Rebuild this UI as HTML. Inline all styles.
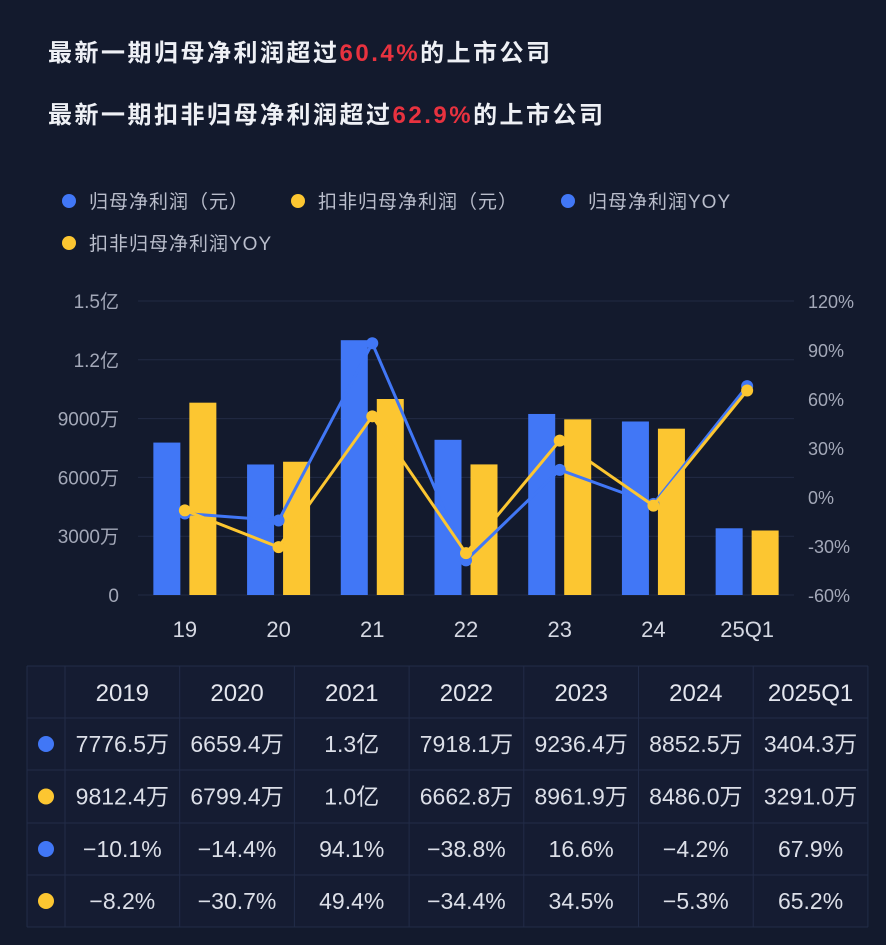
<!DOCTYPE html>
<html><head><meta charset="utf-8">
<style>
html,body{margin:0;padding:0;background:#131a2d;}
body{width:886px;height:940px;overflow:hidden;font-family:"Liberation Sans","Noto Sans CJK SC",sans-serif;}
svg text{font-family:"Liberation Sans","Noto Sans CJK SC",sans-serif;}
</style></head>
<body>
<svg id="chart" width="886" height="940" xmlns="http://www.w3.org/2000/svg">
<rect x="0" y="0" width="886" height="940" fill="#131a2d"/>
<text x="48" y="61" font-size="24" letter-spacing="2.5" font-weight="bold" fill="#eef0f5">最新一期归母净利润超过<tspan fill="#e8323f">60.4%</tspan>的上市公司</text>
<text x="48" y="123" font-size="24" letter-spacing="2.5" font-weight="bold" fill="#eef0f5">最新一期扣非归母净利润超过<tspan fill="#e8323f">62.9%</tspan>的上市公司</text>
<g id="legend"></g>
<g id="grid"></g><g id="bars"></g><g id="lines"></g><g id="axes"></g><g id="table"></g>
</svg>
<script>
const categories=["19","20","21","22","23","24","25Q1"];
const years=["2019","2020","2021","2022","2023","2024","2025Q1"];
const netProfit=[7776.5,6659.4,13000,7918.1,9236.4,8852.5,3404.3];
const deductedProfit=[9812.4,6799.4,10000,6662.8,8961.9,8486.0,3291.0];
const netYoy=[-10.1,-14.4,94.1,-38.8,16.6,-4.2,67.9];
const deductedYoy=[-8.2,-30.7,49.4,-34.4,34.5,-5.3,65.2];
const netProfitLabels=["7776.5万","6659.4万","1.3亿","7918.1万","9236.4万","8852.5万","3404.3万"];
const deductedLabels=["9812.4万","6799.4万","1.0亿","6662.8万","8961.9万","8486.0万","3291.0万"];
const leftTicks=[0,3000,6000,9000,12000,15000];
const leftTickLabels=["0","3000万","6000万","9000万","1.2亿","1.5亿"];
const rightTicks=[-60,-30,0,30,60,90,120];

const NS="http://www.w3.org/2000/svg";
const BLUE="#4177f6",YEL="#fcc631";
function mk(tag,attrs,parent,text){const e=document.createElementNS(NS,tag);for(const k in attrs)e.setAttribute(k,attrs[k]);if(text!==undefined)e.textContent=text;parent.appendChild(e);return e;}
const plotTop=301,plotBot=595,plotLeft=138,plotRight=794;
const yL=v=>plotBot-(v/15000)*(plotBot-plotTop);
const yR=v=>plotBot-((v+60)/180)*(plotBot-plotTop);
const step=(plotRight-plotLeft)/categories.length;
const xC=i=>plotLeft+step*(i+0.5);

const lg=document.getElementById('legend');
const legItems=[["归母净利润（元）",BLUE,69,201],["扣非归母净利润（元）",YEL,298,201],["归母净利润YOY",BLUE,568,201],["扣非归母净利润YOY",YEL,69,243]];
legItems.forEach(it=>{
 const c=mk('circle',{cx:it[2],cy:it[3],r:7,fill:it[1]},lg);
 
 
 const t=mk('text',{x:it[2]+20,y:it[3]+7,'font-size':19,'letter-spacing':1,fill:'#b9bdcb'},lg,it[0]);
 
 
});

const g=document.getElementById('grid'),ax=document.getElementById('axes');
leftTicks.forEach((v,i)=>{
 const l=mk('line',{x1:plotLeft,x2:plotRight,y1:yL(v),y2:yL(v),stroke:'#222b44','stroke-width':1},g);
 
 
 const t=mk('text',{x:119,y:yL(v)+7,'font-size':19,fill:'#a3a8b8','text-anchor':'end'},ax,leftTickLabels[i]);
 
 
});
rightTicks.forEach(v=>{
 const t=mk('text',{x:808,y:yR(v)+7,'font-size':18,fill:'#a3a8b8'},ax,v+'%');
 
 
});
categories.forEach((c,i)=>{
 const t=mk('text',{x:xC(i),y:637,'font-size':22,fill:'#d5d8e2','text-anchor':'middle'},ax,c);
 
 
});

const b=document.getElementById('bars');const bw=27;
categories.forEach((c,i)=>{
 const r1=mk('rect',{x:xC(i)-bw-4.5,y:yL(netProfit[i]),width:bw,height:plotBot-yL(netProfit[i]),fill:BLUE},b);
 
 
 const r2=mk('rect',{x:xC(i)+4.5,y:yL(deductedProfit[i]),width:bw,height:plotBot-yL(deductedProfit[i]),fill:YEL},b);
 
 
});

const ln=document.getElementById('lines');
[[netYoy,BLUE,'net-yoy'],[deductedYoy,YEL,'deducted-yoy']].forEach(s=>{
 const pts=s[0].map((v,i)=>xC(i)+','+yR(v)).join(' ');
 const p=mk('polyline',{points:pts,fill:'none',stroke:s[1],'stroke-width':3},ln);
 
 
 s[0].forEach((v,i)=>{
  const c=mk('circle',{cx:xC(i),cy:yR(v),r:6,fill:s[1]},ln);
  
  
 });
});

const tb=document.getElementById('table');
const tx0=27,tc0=65,cw=114.7,rowY=[666,718,770,823,875,927];
mk('rect',{x:tx0,y:666,width:868-tx0,height:261,fill:'#151c32'},tb);
rowY.forEach(y=>{mk('line',{x1:tx0,x2:868,y1:y,y2:y,stroke:'#222c48','stroke-width':1},tb);});
for(let i=0;i<=7;i++){const x=tc0+cw*i;mk('line',{x1:x,x2:x,y1:666,y2:927,stroke:'#222c48','stroke-width':1},tb);}
mk('line',{x1:tx0,x2:tx0,y1:666,y2:927,stroke:'#222c48'},tb);
const fmt=v=>(v<0?'−'+(-v).toFixed(1):v.toFixed(1))+'%';
const rows=[netProfitLabels,deductedLabels,netYoy.map(fmt),deductedYoy.map(fmt)];
const rowColors=[BLUE,YEL,BLUE,YEL];
years.forEach((y,i)=>{
 const t=mk('text',{x:tc0+cw*(i+0.5),y:701,'font-size':24,fill:'#e4e6ee','text-anchor':'middle'},tb,y);
 
 
});
rows.forEach((r,ri)=>{
 const cy=(rowY[ri+1]+rowY[ri+2])/2;
 const d=mk('circle',{cx:46,cy:cy,r:8,fill:rowColors[ri]},tb);
 
 
 r.forEach((v,i)=>{
  const t=mk('text',{x:tc0+cw*(i+0.5),y:cy+8,'font-size':23,fill:'#dcdfe8','text-anchor':'middle'},tb,v);
  
  
 });
});
</script>
</body></html>
